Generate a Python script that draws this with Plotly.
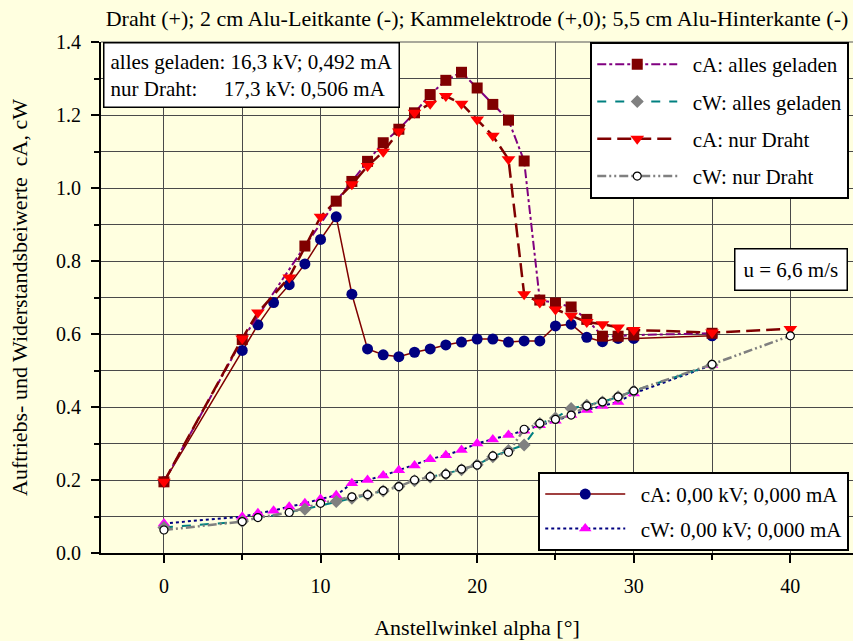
import plotly.graph_objects as go

# ---------------- data ----------------
x_alles = [0, 5, 9, 11, 12, 13, 14, 15, 16, 17, 18, 19, 20, 21, 22, 23, 24, 25, 26, 27, 28, 29, 30, 35]
cA_alles = [0.195, 0.585, 0.841, 0.964, 1.018, 1.073, 1.124, 1.161, 1.206, 1.256, 1.295, 1.317, 1.274,
            1.229, 1.186, 1.074, 0.693, 0.685, 0.674, 0.640, 0.594, 0.594, 0.597, 0.602]
cW_alles = [0.070, 0.086, 0.120, 0.141, 0.150, 0.159, 0.170, 0.182, 0.198, 0.208, 0.216, 0.228, 0.242,
            0.264, 0.281, 0.296, 0.355, 0.370, 0.396, 0.405, 0.414, 0.428, 0.444, 0.515]

x_draht = [0, 5, 6, 8, 10, 12, 13, 14, 15, 16, 17, 18, 19, 20, 21, 22, 23, 24, 25, 26, 27, 28, 29, 30, 35, 40]
cA_draht = [0.195, 0.588, 0.659, 0.755, 0.921, 1.010, 1.060, 1.099, 1.155, 1.206, 1.231, 1.252, 1.231,
            1.188, 1.143, 1.079, 0.709, 0.686, 0.667, 0.650, 0.633, 0.627, 0.618, 0.611, 0.604, 0.614]
cW_draht = [0.063, 0.086, 0.097, 0.111, 0.136, 0.154, 0.160, 0.171, 0.182, 0.200, 0.209, 0.216, 0.230,
            0.241, 0.266, 0.276, 0.339, 0.355, 0.366, 0.378, 0.403, 0.414, 0.428, 0.444, 0.517, 0.595]

x_null = [0, 5, 6, 7, 8, 9, 10, 11, 12, 13, 14, 15, 16, 17, 18, 19, 20, 21, 22, 23, 24, 25, 26, 27, 28, 29, 30, 35]
cA_null = [0.195, 0.555, 0.625, 0.686, 0.735, 0.792, 0.859, 0.921, 0.709, 0.559, 0.543, 0.538, 0.550,
           0.559, 0.570, 0.578, 0.586, 0.586, 0.578, 0.581, 0.581, 0.622, 0.627, 0.591, 0.579, 0.588, 0.588, 0.595]
cW_null = [0.081, 0.0995, 0.109, 0.116, 0.127, 0.136, 0.148, 0.158, 0.191, 0.200, 0.212, 0.227, 0.240,
           0.257, 0.268, 0.282, 0.300, 0.311, 0.323, 0.335, 0.350, 0.362, 0.378, 0.392, 0.403, 0.414, 0.437, 0.515]

x_tickvals = [0, 10, 20, 30, 40]
y_tickvals = [0.0, 0.2, 0.4, 0.6, 0.8, 1.0, 1.2, 1.4]

title_text = "Draht (+); 2 cm Alu-Leitkante (-); Kammelektrode (+,0); 5,5 cm Alu-Hinterkante (-)"
x_title = "Anstellwinkel alpha [°]"
y_title = "Auftriebs- und Widerstandsbeiwerte  cA, cW"
info_text = ("alles geladen: 16,3 kV; 0,492 mA<br>"
             "nur Draht:&nbsp;&nbsp;&nbsp;&nbsp; 17,3 kV: 0,506 mA")
speed_text = "u = 6,6 m/s"

FONT = "Liberation Serif"
BG = "#FFFFE0"
PAD = "&nbsp;&nbsp;"

fig = go.Figure()

# lower legend series (drawn first, beneath)
fig.add_trace(go.Scatter(
    x=x_null, y=cA_null, name=PAD + "cA: 0,00 kV; 0,000 mA", legend="legend2", legendgroup="n1",
    mode="lines+markers", line=dict(color="#800000", width=1.5),
    marker=dict(symbol="circle", size=11, color="#000080")))
fig.add_trace(go.Scatter(
    x=x_null, y=cW_null, name=PAD + "cW: 0,00 kV; 0,000 mA", legend="legend2", legendgroup="n2",
    mode="lines+markers", line=dict(color="#000080", width=2, dash="dot"),
    marker=dict(symbol="triangle-up", size=11, color="#FF00FF")))

# upper legend series
fig.add_trace(go.Scatter(
    x=x_alles, y=cA_alles, name=PAD + "cA: alles geladen", legendgroup="a1",
    mode="lines+markers", line=dict(color="#800080", width=2, dash="dashdot"),
    marker=dict(symbol="square", size=11, color="#800000")))
fig.add_trace(go.Scatter(
    x=x_alles, y=cW_alles, name=PAD + "cW: alles geladen", legendgroup="a2",
    mode="lines+markers", line=dict(color="#008080", width=2, dash="dash"),
    marker=dict(symbol="diamond", size=10, color="#808080")))
fig.add_trace(go.Scatter(
    x=x_draht, y=cA_draht, name=PAD + "cA: nur Draht", legendgroup="a3",
    mode="lines+markers", line=dict(color="#800000", width=2.5, dash="14px,6px"),
    marker=dict(symbol="triangle-down", size=12, color="#FF0000")))
fig.add_trace(go.Scatter(
    x=x_draht, y=cW_draht, name=PAD + "cW: nur Draht", legendgroup="a4",
    mode="lines+markers", line=dict(color="#808080", width=2.5, dash="9px,3px,2px,3px,2px,3px"),
    marker=dict(symbol="circle", size=8, color="white", line=dict(color="black", width=1.2))))

grid_col = "#4a4a4a"

fig.update_layout(
    width=853, height=641,
    paper_bgcolor=BG, plot_bgcolor=BG,
    margin=dict(l=101, r=0, t=42, b=88, autoexpand=False),
    font=dict(family=FONT, size=20, color="black"),
    title=dict(text=title_text, x=0.5, xref="paper", xanchor="center",
               y=1 - 18 / 641, yref="container", yanchor="middle", automargin=False,
               font=dict(family=FONT, size=22, color="black")),
    xaxis=dict(range=[-4.02, 44.0], tickvals=x_tickvals, showgrid=False, zeroline=False,
               automargin=False,
               showline=True, linecolor="black", linewidth=2,
               ticks="outside", ticklen=8, tickcolor="black", tickwidth=1.5,
               ticklabelstandoff=6,
               minor=dict(dtick=5, tick0=0, showgrid=True, gridcolor=grid_col, gridwidth=1.3,
                          ticks="outside", ticklen=5, tickcolor="black"),
               title=dict(text=x_title, standoff=24, font=dict(size=22))),
    yaxis=dict(range=[0, 1.4], tickvals=y_tickvals, tickformat=".1f", showgrid=False, zeroline=False,
               automargin=False,
               showline=True, linecolor="black", linewidth=2,
               ticks="outside", ticklen=8, tickcolor="black", tickwidth=1.5,
               ticklabelstandoff=6,
               minor=dict(dtick=0.1, tick0=0, showgrid=True, gridcolor=grid_col, gridwidth=1.3,
                          ticks="outside", ticklen=5, tickcolor="black"),
               title=dict(text=y_title, standoff=22, font=dict(size=22))),
    legend=dict(x=0.995, y=1.0, xanchor="right", yanchor="top",
                bgcolor="white", bordercolor="black", borderwidth=2,
                font=dict(family=FONT, size=21), itemwidth=80,
                traceorder="grouped", tracegroupgap=7),
    legend2=dict(x=0.995, y=0.004, xanchor="right", yanchor="bottom",
                 bgcolor="white", bordercolor="black", borderwidth=2,
                 font=dict(family=FONT, size=21), itemwidth=80,
                 traceorder="grouped", tracegroupgap=4),
    showlegend=True,
)

fig.add_shape(type="line", xref="paper", yref="paper", x0=0, x1=1, y0=1, y1=1,
              line=dict(color="#555555", width=1.2), layer="below")

fig.add_annotation(xref="paper", yref="paper", x=0.003, y=1.0, xanchor="left", yanchor="top",
                   text=info_text, showarrow=False, align="left",
                   font=dict(family=FONT, size=21, color="black"),
                   bgcolor="white", bordercolor="black", borderwidth=1.5, borderpad=6)
fig.add_annotation(xref="paper", yref="paper", x=0.993, y=0.5965, xanchor="right", yanchor="top",
                   text=speed_text, showarrow=False,
                   font=dict(family=FONT, size=21, color="black"),
                   bgcolor="white", bordercolor="black", borderwidth=1.5, borderpad=8)

fig.write_html("out.html", config={"displayModeBar": False},
               post_script="document.body.style.margin='0px';document.body.style.overflow='hidden';")
